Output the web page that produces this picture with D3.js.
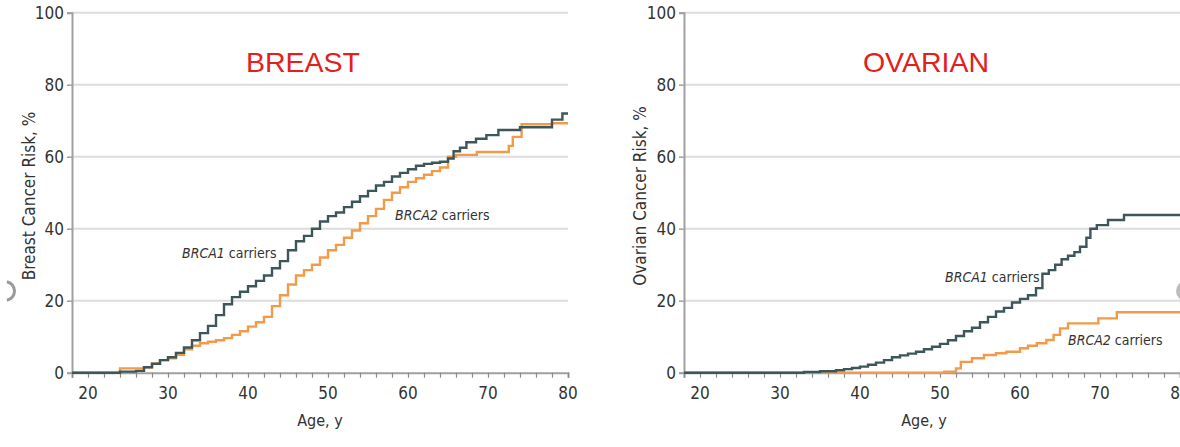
<!DOCTYPE html>
<html>
<head>
<meta charset="utf-8">
<script src="https://cdn.jsdelivr.net/npm/d3@7"></script>
<style>
    body { margin: 0; background: #fff; }
    svg { display: block; }
    .tick-label, .axis-title, .series-label {
        font-family: "Liberation Sans Narrow", "DejaVu Sans Condensed", sans-serif;
        fill: #333;
    }
    .panel-title { font-family: "Liberation Sans", Arial, sans-serif; fill: #e3201b; }
</style>
</head>
<body>
<div id="chart-area"></div>
<script>
// =====================================================
// BRCA1 / BRCA2 cumulative cancer risk (step curves)
// =====================================================

// age, cumulative risk %
const breastBrca1 = [
    [18, 0], [24, 0.3], [26, 0.5], [27, 1.5], [28, 2.5], [29, 3.5], [30, 4.3], [31, 5.5],
    [32, 7], [33, 9], [34, 11], [35, 13], [36, 16], [37, 19], [38, 21], [39, 22.5],
    [40, 24], [41, 25.5], [42, 27], [43, 29], [44, 31], [45, 34], [46, 36.5], [47, 38],
    [48, 40], [49, 42], [50, 43.5], [51, 44.5], [52, 46], [53, 47.5], [54, 49], [55, 50.5],
    [56, 52], [57, 53], [58, 54.5], [59, 55.5], [60, 56.5], [61, 57.5], [62, 58], [63, 58.3],
    [64, 58.6], [65, 59.5], [65.7, 61.5], [66.5, 62.5], [67.3, 64], [68.5, 65], [69.8, 66],
    [71.3, 67.4], [74, 68.2], [78, 70.3], [79.3, 72], [80, 72]
];

const breastBrca2 = [
    [18, 0], [24, 1.2], [27, 1.5], [28, 2.5], [29, 3.5], [30, 4], [31, 5], [32, 6.5],
    [33, 7.5], [34, 8.2], [35, 8.6], [36, 9], [37, 9.6], [38, 10.5], [39, 11.5], [40, 12.8],
    [41, 14], [42, 15.5], [43, 18.5], [44, 21.5], [45, 24.5], [46, 27], [47, 28.5], [48, 30],
    [49, 32], [50, 34], [51, 35.5], [52, 37.5], [53, 39.5], [54, 41.5], [55, 43.5], [56, 45.5],
    [57, 48], [58, 50], [59, 51.5], [60, 53], [61, 54], [62, 55], [63, 56], [64, 57],
    [65, 60], [66, 60.5], [68.6, 61.3], [72.6, 63], [73.1, 65.5], [74.2, 69], [78, 69.3], [80, 69.3]
];

const ovarianBrca1 = [
    [18, 0], [33, 0.2], [35, 0.4], [37, 0.7], [38, 1], [39, 1.3], [40, 1.7], [41, 2.2],
    [42, 2.8], [43, 3.5], [44, 4.3], [45, 4.8], [46, 5.3], [47, 5.8], [48, 6.5], [49, 7.2],
    [50, 8], [51, 9], [52, 10.2], [53, 11.5], [54, 12.5], [55, 14], [56, 15.5], [57, 17],
    [58, 18], [59, 19.5], [60, 20.5], [61, 21.5], [62, 23.5], [62.8, 27.5], [63.6, 28.5],
    [64.4, 30], [65.2, 31.5], [66, 32.5], [66.8, 33.5], [67.5, 35], [68.3, 37.5], [68.8, 40],
    [69.6, 41], [71, 42.4], [73, 43.8], [80, 43.8]
];

const ovarianBrca2 = [
    [18, 0], [50.5, 0.3], [52, 1.2], [52.6, 3], [54, 4], [55.5, 4.9], [57, 5.4], [58.3, 5.8],
    [60, 6.8], [61, 7.5], [62.1, 8.2], [63.3, 9.1], [64.2, 10.5], [65, 12.3], [66, 13.7],
    [69.8, 15.1], [72.1, 16.8], [80, 16.8]
];

const ageLabels = [20, 30, 40, 50, 60, 70, 80];
const ageMinorTicks = [18, 20, 22, 24, 26, 28, 30, 32, 34, 36, 38, 40, 42, 44, 46, 48, 50,
    52, 54, 56, 58, 60, 62, 64, 66, 68, 70, 72, 74, 76, 78, 80];
const riskTicks = [0, 20, 40, 60, 80, 100];

const width = 1180;
const height = 447;
const colorBrca1 = '#3d5659';
const colorBrca2 = '#f29a48';

const svg = d3.select('#chart-area')
    .append('svg')
    .attr('width', width)
    .attr('height', height);

function drawPanel(opts) {
    const x = d3.scaleLinear().domain([18, 80]).range([opts.left, opts.right]);
    const y = d3.scaleLinear().domain([0, 100]).range([372.7, 12.7]);
    const g = svg.append('g');

    // grid lines
    g.selectAll('.grid')
        .data(riskTicks.filter(d => d > 0))
        .enter()
        .append('line')
        .attr('x1', x(18)).attr('x2', opts.right)
        .attr('y1', d => y(d)).attr('y2', d => y(d))
        .attr('stroke', '#dcdcdc')
        .attr('stroke-width', 2);

    // y axis
    const yAxis = g.append('g').attr('transform', `translate(${x(18)},0)`)
        .call(d3.axisLeft(y).tickValues(riskTicks).tickSize(5).tickPadding(3));
    yAxis.select('.domain').attr('stroke', '#a0a0a0').attr('stroke-width', 2);
    yAxis.selectAll('.tick line').attr('stroke', '#a0a0a0').attr('stroke-width', 1.5);
    yAxis.selectAll('.tick text')
        .attr('class', 'tick-label')
        .style('font-size', '17px')
        .attr('fill', '#333');

    // x axis
    const xAxis = g.append('g').attr('transform', `translate(0,${y(0)})`)
        .call(d3.axisBottom(x).tickValues(ageMinorTicks).tickSize(5).tickFormat(''));
    xAxis.select('.domain').attr('stroke', '#a0a0a0').attr('stroke-width', 2);
    xAxis.selectAll('.tick line').attr('stroke', '#8a8a8a').attr('stroke-width', 1.2);

    g.selectAll('.x-label')
        .data(ageLabels)
        .enter()
        .append('text')
        .attr('class', 'tick-label')
        .attr('x', d => x(d))
        .attr('y', 399)
        .attr('text-anchor', 'middle')
        .style('font-size', '17px')
        .text(d => d);

    // axis titles
    g.append('text')
        .attr('class', 'axis-title')
        .attr('x', x(18) + (opts.right - x(18)) * 0.5 + opts.titleShift)
        .attr('y', 426)
        .attr('text-anchor', 'middle')
        .style('font-size', '16px')
        .text('Age, y');

    g.append('text')
        .attr('class', 'axis-title')
        .attr('transform', `translate(${opts.yTitleX},196) rotate(-90)`)
        .attr('text-anchor', 'middle')
        .style('font-size', '17px')
        .text(opts.yTitle);

    // panel title
    g.append('text')
        .attr('class', 'panel-title')
        .attr('x', opts.titleX)
        .attr('y', 72)
        .attr('text-anchor', 'middle')
        .style('font-size', '28.5px')
        .text(opts.title);

    // step curves
    const line = d3.line()
        .x(d => x(d[0]))
        .y(d => y(d[1]))
        .curve(d3.curveStepAfter);

    g.append('path')
        .datum(opts.brca2)
        .attr('d', line)
        .attr('fill', 'none')
        .attr('stroke', colorBrca2)
        .attr('stroke-width', 2.4);

    g.append('path')
        .datum(opts.brca1)
        .attr('d', line)
        .attr('fill', 'none')
        .attr('stroke', colorBrca1)
        .attr('stroke-width', 2.4);

    // series labels
    opts.labels.forEach(l => {
        const t = g.append('text')
            .attr('class', 'series-label')
            .attr('x', l.x)
            .attr('y', l.y)
            .style('font-size', '14px');
        t.append('tspan').style('font-style', 'italic').text(l.gene);
        t.append('tspan').text(' carriers');
    });
}

drawPanel({
    left: 72, right: 568, title: 'BREAST', titleX: 303, titleShift: 0,
    yTitle: 'Breast Cancer Risk, %', yTitleX: 35,
    brca1: breastBrca1, brca2: breastBrca2,
    labels: [
        { gene: 'BRCA1', x: 182, y: 258 },
        { gene: 'BRCA2', x: 395, y: 220 }
    ]
});

drawPanel({
    left: 684, right: 1180, title: 'OVARIAN', titleX: 926, titleShift: -8,
    yTitle: 'Ovarian Cancer Risk, %', yTitleX: 646,
    brca1: ovarianBrca1, brca2: ovarianBrca2,
    labels: [
        { gene: 'BRCA1', x: 945, y: 282 },
        { gene: 'BRCA2', x: 1068, y: 345 }
    ]
});

// slide-nav circles cut by the frame edges
svg.append('path')
    .attr('d', d3.arc()({ innerRadius: 8, outerRadius: 11, startAngle: 0.2, endAngle: Math.PI - 0.2 }))
    .attr('transform', 'translate(5,291)')
    .attr('fill', '#9a9a9a');
svg.append('circle')
    .attr('cx', 1186).attr('cy', 291).attr('r', 10)
    .attr('fill', '#bdbdbd');
</script>
</body>
</html>
